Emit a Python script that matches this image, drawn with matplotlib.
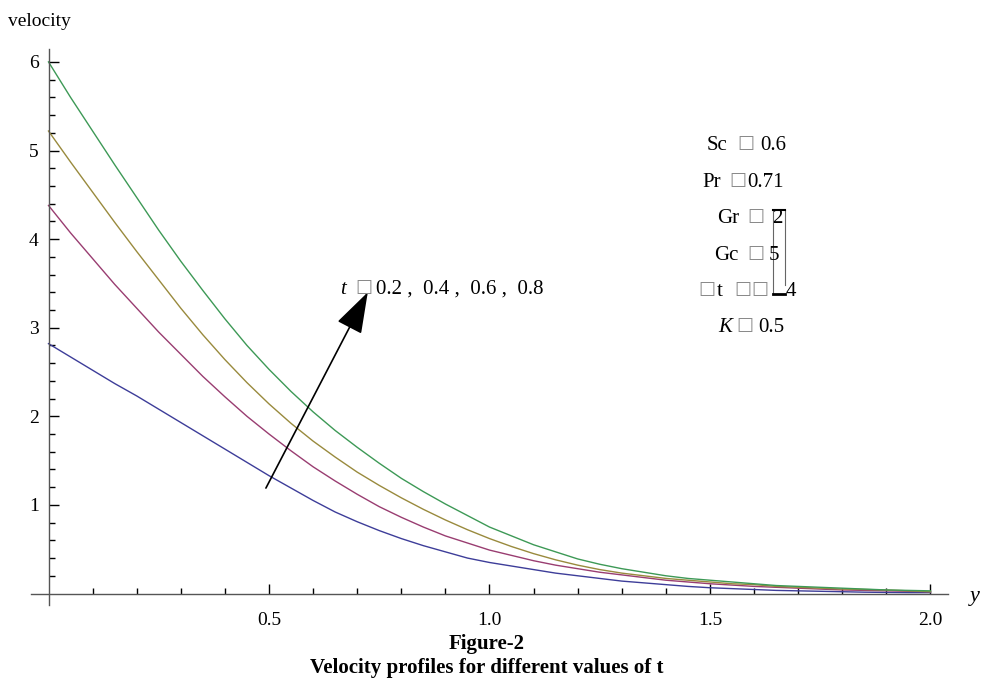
import matplotlib
matplotlib.use("Agg")
import matplotlib.pyplot as plt
from matplotlib.ticker import FixedLocator, NullFormatter

plt.rcParams['font.family'] = ['Liberation Serif', 'DejaVu Serif', 'DejaVu Sans']

# ---- data ----
y_vals = [0.00, 0.05, 0.10, 0.15, 0.20, 0.25, 0.30, 0.35, 0.40, 0.45, 0.50,
          0.55, 0.60, 0.65, 0.70, 0.75, 0.80, 0.85, 0.90, 0.95, 1.00,
          1.05, 1.10, 1.15, 1.20, 1.25, 1.30, 1.35, 1.40, 1.45, 1.50,
          1.55, 1.60, 1.65, 1.70, 1.75, 1.80, 1.85, 1.90, 1.95, 2.00]
vel_t02 = [2.82, 2.67, 2.52, 2.37, 2.23, 2.08, 1.93, 1.78, 1.63, 1.48, 1.33,
           1.19, 1.05, 0.92, 0.81, 0.71, 0.62, 0.54, 0.47, 0.40, 0.35,
           0.31, 0.27, 0.23, 0.20, 0.17, 0.14, 0.12, 0.10, 0.08, 0.065,
           0.055, 0.045, 0.035, 0.03, 0.025, 0.02, 0.015, 0.012, 0.01, 0.01]
vel_t04 = [4.38, 4.07, 3.78, 3.49, 3.22, 2.95, 2.70, 2.45, 2.22, 2.00, 1.80,
           1.61, 1.43, 1.27, 1.12, 0.98, 0.86, 0.75, 0.65, 0.57, 0.49,
           0.43, 0.37, 0.32, 0.28, 0.24, 0.21, 0.18, 0.15, 0.13, 0.11,
           0.095, 0.08, 0.07, 0.06, 0.05, 0.04, 0.035, 0.03, 0.025, 0.02]
vel_t06 = [5.22, 4.87, 4.53, 4.19, 3.86, 3.54, 3.22, 2.92, 2.64, 2.38, 2.14,
           1.92, 1.72, 1.54, 1.37, 1.22, 1.08, 0.95, 0.83, 0.72, 0.62,
           0.53, 0.45, 0.38, 0.32, 0.27, 0.23, 0.20, 0.17, 0.15, 0.13,
           0.11, 0.10, 0.08, 0.07, 0.06, 0.05, 0.045, 0.04, 0.03, 0.02]
vel_t08 = [6.00, 5.60, 5.22, 4.84, 4.47, 4.10, 3.75, 3.42, 3.10, 2.80, 2.53,
           2.28, 2.05, 1.84, 1.65, 1.47, 1.30, 1.15, 1.01, 0.88, 0.75,
           0.65, 0.55, 0.47, 0.39, 0.33, 0.28, 0.24, 0.20, 0.17, 0.15,
           0.13, 0.11, 0.09, 0.08, 0.07, 0.06, 0.05, 0.04, 0.035, 0.03]
series = [vel_t02, vel_t04, vel_t06, vel_t08]
colors = ['#3D3D99', '#993D71', '#998A3D', '#3D9956']

x_major = [0.5, 1.0, 1.5, 2.0]
x_major_labels = ['0.5', '1.0', '1.5', '2.0']
y_major = [1, 2, 3, 4, 5, 6]
y_major_labels = ['1', '2', '3', '4', '5', '6']

BOX = '\u25a1'
# parameter rows: (baseline pixel, pieces (x pixel, text, kind)); kind: n normal, i italic, b box
param_rows = [
    (150, [(707, 'Sc', 'n'), (739, BOX, 'b'), (760, '0.6', 'n')]),
    (187, [(702, 'Pr', 'n'), (731, BOX, 'b'), (747, '0.71', 'n')]),
    (223, [(717, 'Gr', 'n'), (749, BOX, 'b'), (772, '2', 'n')]),
    (260, [(714, 'Gc', 'n'), (749, BOX, 'b'), (769, '5', 'n')]),
    (296, [(700, BOX, 'b'), (717, 't', 'n'), (736, BOX, 'b'), (753, BOX, 'b'),
           (786, '4', 'n')]),
    (332, [(718, 'K', 'i'), (738, BOX, 'b'), (758, '0.5', 'n')]),
]
t_row = (294, [(340, 't', 'i'), (357, BOX, 'b'),
               (376, '0.2 ,  0.4 ,  0.6 ,  0.8', 'n')])

# ---- figure ----
W, H = 984, 689
fig = plt.figure(figsize=(W / 100, H / 100), dpi=100)
xl, xr = -0.04, 2.04
yb, yt = -0.135, 6.15
px0, pxs = 48.5, 441.0
py0, pys = 593.5, 88.6
left = (px0 + xl * pxs) / W
right = (px0 + xr * pxs) / W
bottom = 1 - (py0 - yb * pys) / H
top = 1 - (py0 - yt * pys) / H
ax = fig.add_axes([left, bottom, right - left, top - bottom])
ax.set_xlim(xl, xr)
ax.set_ylim(yb, yt)

for s, c in zip(series, colors):
    ax.plot(y_vals, s, color=c, lw=1.0)

for side in ['top', 'right']:
    ax.spines[side].set_visible(False)
ax.spines['left'].set_position(('data', 0))
ax.spines['bottom'].set_position(('data', 0))
for side in ['left', 'bottom']:
    ax.spines[side].set_color('#555555')
    ax.spines[side].set_linewidth(1.0)

ax.xaxis.set_major_locator(FixedLocator(x_major))
ax.set_xticklabels(x_major_labels)
ax.yaxis.set_major_locator(FixedLocator(y_major))
ax.set_yticklabels(y_major_labels)
xminor = [i / 10 for i in range(1, 20) if i % 5 != 0]
yminor = [i / 5 for i in range(1, 31) if i % 5 != 0]
ax.xaxis.set_minor_locator(FixedLocator(xminor))
ax.yaxis.set_minor_locator(FixedLocator(yminor))
ax.xaxis.set_minor_formatter(NullFormatter())
ax.yaxis.set_minor_formatter(NullFormatter())
ax.tick_params(axis='both', which='major', direction='in', length=7, width=1.0,
               color='black', labelsize=14)
ax.tick_params(axis='both', which='minor', direction='in', length=4, width=1.0,
               color='black')
ax.tick_params(axis='x', which='major', pad=13)
ax.tick_params(axis='y', which='major', pad=7)

# axis labels
fig.text(8 / W, 1 - 22 / H, 'velocity', fontsize=14, ha='left', va='center')
fig.text(975 / W, 1 - 596 / H, 'y', fontsize=16, fontstyle='italic',
         ha='center', va='center')


def draw_row(yb_px, pieces, size=15):
    for xx, txt, kind in pieces:
        if kind == 'b':
            fig.text((xx - 2) / W, 1 - (yb_px - 2) / H, txt, fontsize=13,
                     color='#8a8a8a', family=['DejaVu Sans'],
                     ha='left', va='baseline')
        else:
            fig.text(xx / W, 1 - yb_px / H, txt, fontsize=size,
                     fontstyle='italic' if kind == 'i' else 'normal',
                     ha='left', va='baseline')


# arrow and label
ax.annotate('', xy=(0.724, 3.40), xytext=(0.493, 1.19),
            arrowprops=dict(arrowstyle='-|>,head_length=1.3,head_width=0.43',
                            mutation_scale=20, color='black', lw=1.2,
                            shrinkA=0, shrinkB=0))
draw_row(*t_row)

# parameter block
for yy, pieces in param_rows:
    draw_row(yy, pieces)

# bracket artifact
fig.add_artist(plt.Line2D([773 / W, 773 / W], [1 - 210 / H, 1 - 294 / H],
                          color='#666666', lw=0.8, transform=fig.transFigure))
fig.add_artist(plt.Line2D([785 / W, 785 / W], [1 - 210 / H, 1 - 285 / H],
                          color='#666666', lw=0.8, transform=fig.transFigure))
fig.add_artist(plt.Line2D([773 / W, 785 / W], [1 - 210 / H, 1 - 210 / H],
                          color='black', lw=1.5, transform=fig.transFigure))
fig.add_artist(plt.Line2D([773 / W, 785 / W], [1 - 294 / H, 1 - 294 / H],
                          color='black', lw=2.0, transform=fig.transFigure))

# captions
fig.text(487 / W, 1 - 644 / H, 'Figure-2', fontsize=15, fontweight='bold',
         ha='center', va='center')
fig.text(487 / W, 1 - 668 / H, 'Velocity profiles for different values of t',
         fontsize=15, fontweight='bold', ha='center', va='center')

fig.savefig('out.png', dpi=100)
